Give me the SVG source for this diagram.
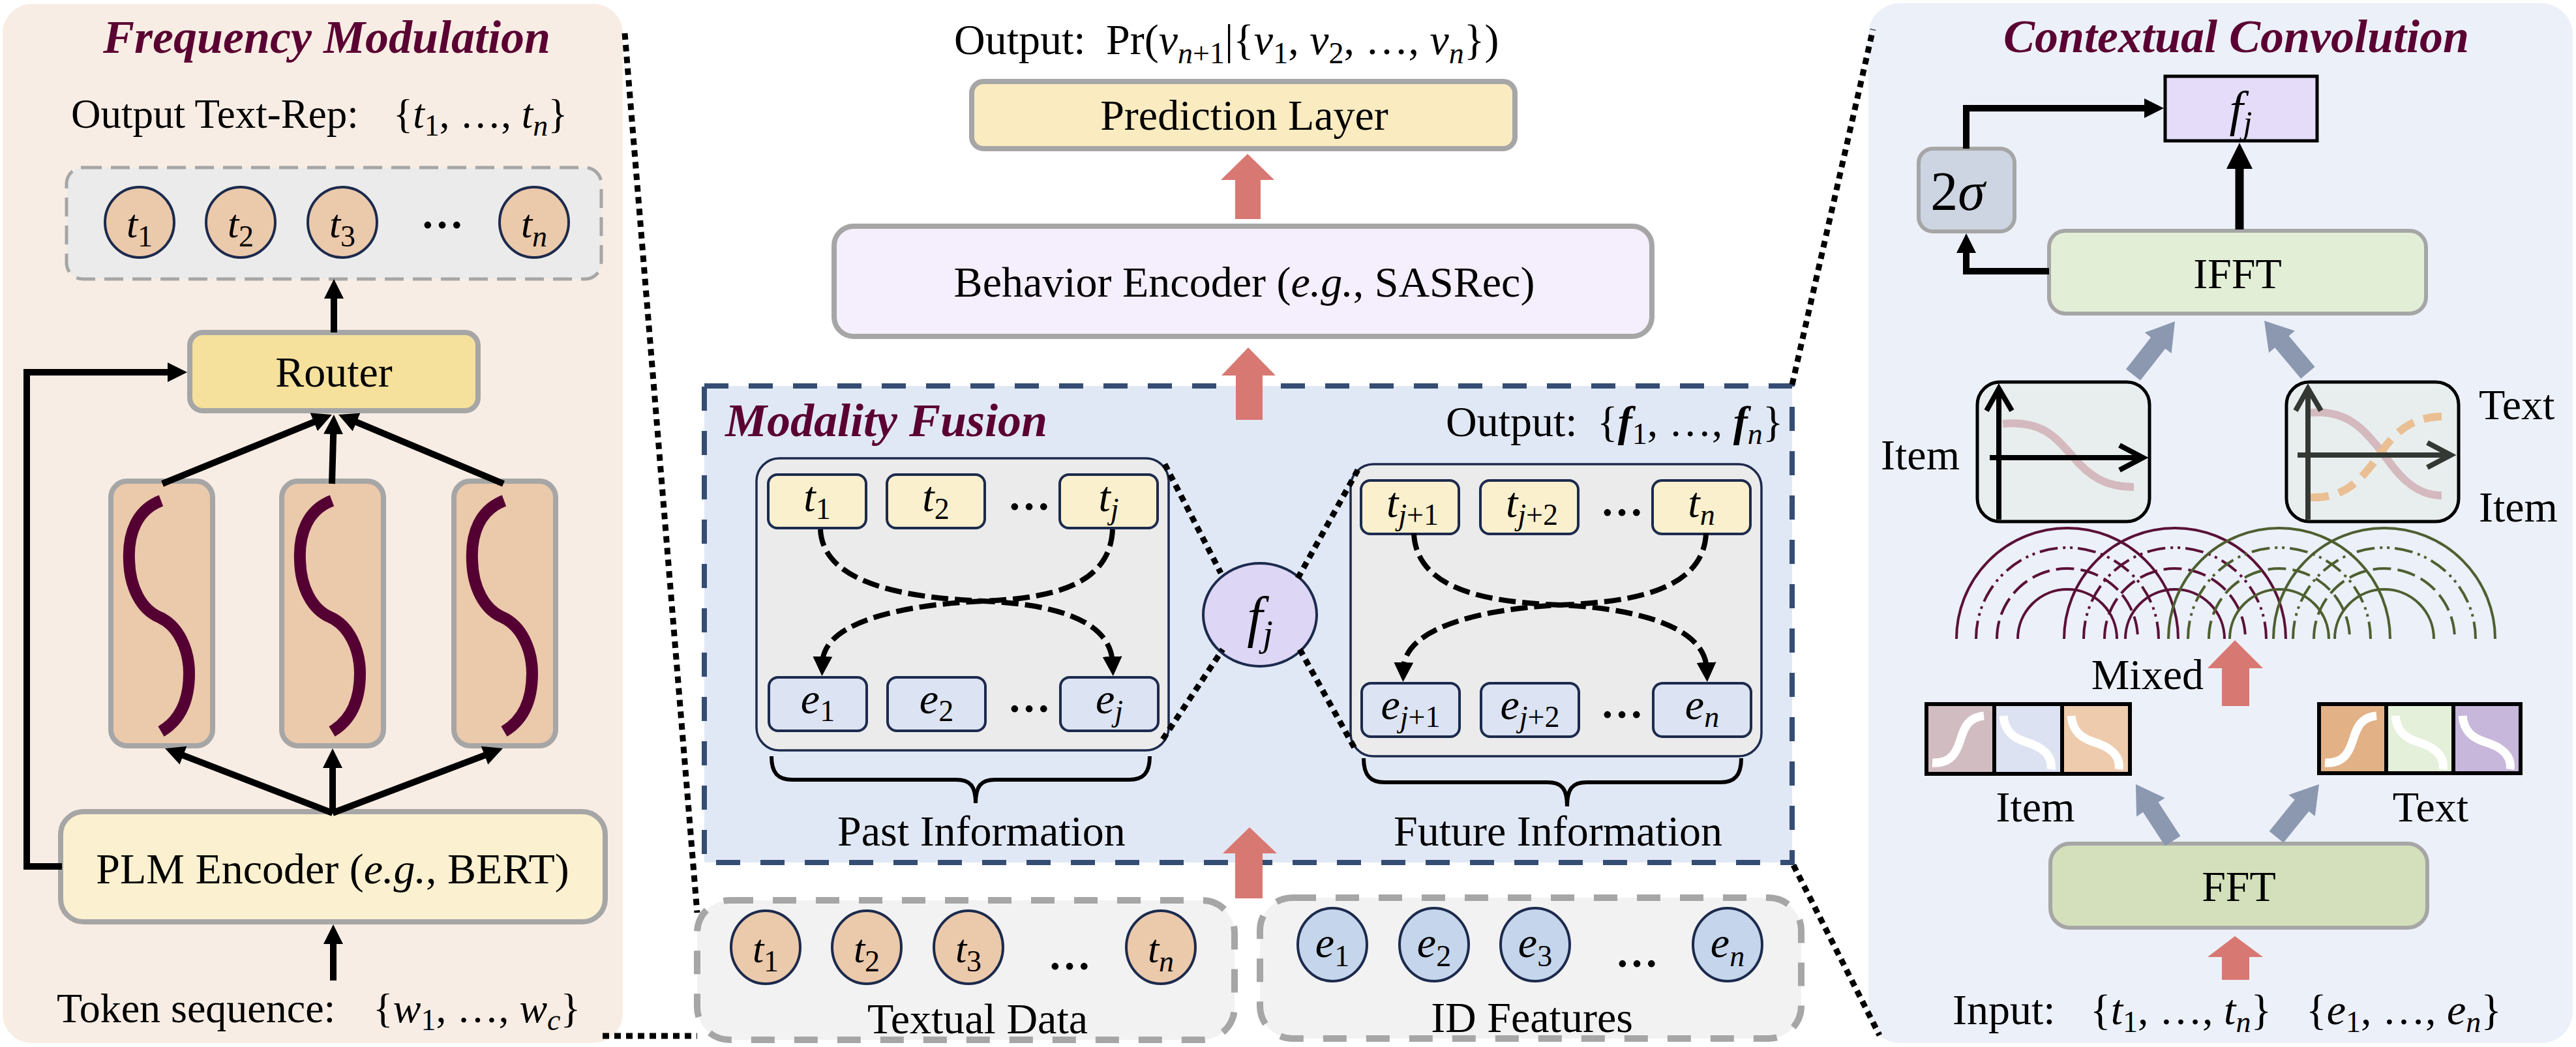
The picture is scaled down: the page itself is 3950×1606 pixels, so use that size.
<svg xmlns="http://www.w3.org/2000/svg" xmlns:xlink="http://www.w3.org/1999/xlink" width="3950" height="1606" viewBox="0 0 3950 1606">
<style>
.tx{font-family:"Liberation Serif","Times New Roman",serif;font-size:66px;fill:#000}
.ttl{font-family:"Liberation Serif","Times New Roman",serif;font-size:72px;font-weight:bold;font-style:italic;fill:#5a0032}
.i{font-style:italic}
.b{font-weight:bold}
.sb{font-size:46px}
.mid{text-anchor:middle}
.gbox{stroke:#a6a6a6;stroke-width:8}
.nv{stroke:#1c2a4d;stroke-width:4}
.ln{stroke:#000;stroke-width:10;fill:none}
.dot{stroke:#000;stroke-width:9;stroke-dasharray:10 8;fill:none}
.dcurve{stroke:#000;stroke-width:8;stroke-dasharray:26 10;fill:none}
.red{fill:#d87872}
.bga{fill:#8b98b0}
.peach{fill:#ebc9ab}
.blu{fill:#c5d6ec}
.ty{fill:#fbf0cd}
.ey{fill:#dce3f3}
.arcm{stroke:#5a1037;stroke-width:4;fill:none}
.arcg{stroke:#4e5f30;stroke-width:4;fill:none}
.dd{stroke-dasharray:28 8 4 7 4 8}
.da{stroke-dasharray:28 10}
.wc{stroke:#fff;stroke-width:13;fill:none}
.cell{stroke:#000;stroke-width:6}
</style>
<defs>
<marker id="ah" viewBox="0 0 30 30" refX="10" refY="15" markerWidth="30" markerHeight="30" orient="auto" markerUnits="userSpaceOnUse"><path d="M0,0 L30,15 L0,30 z" fill="#000"/></marker>
<marker id="ah2" viewBox="0 0 40 40" refX="14" refY="20" markerWidth="40" markerHeight="40" orient="auto" markerUnits="userSpaceOnUse"><path d="M0,0 L40,20 L0,40 z" fill="#000"/></marker>
<path id="sc" d="M-1,768 C-38,782 -52,818 -50,860 C-49,900 -32,935 -3,947 C25,960 42,995 42,1033 C42,1075 28,1105 -1,1122" stroke="#550033" stroke-width="18" fill="none"/>
<path id="wup" d="M9,90 C40,92 47,70 52,55 C58,35 65,20 88,18" class="wc"/>
<path id="wdn" d="M14,18 C16,42 30,52 48,58 C75,66 90,80 87,100" class="wc"/>
<polygon id="bga" points="0,0 26,42 14,42 14,104 -14,104 -14,42 -26,42" class="bga"/>
</defs>

<!-- panels -->
<g id="panel-freq">
<rect x="4" y="6" width="951" height="1594" rx="45" fill="#f8ede4"/>
<text class="ttl mid" x="501" y="81">Frequency Modulation</text>
<text class="tx" x="109" y="196" style="font-size:63px">Output Text-Rep:</text>
<text class="tx" x="603" y="196" style="font-size:63px">{<tspan class="i">t</tspan><tspan class="sb" dy="12">1</tspan><tspan dy="-12">, …, </tspan><tspan class="i">t</tspan><tspan class="sb i" dy="12">n</tspan><tspan dy="-12">}</tspan></text>
</g>
<g id="panel-conv">
<rect x="2865" y="5" width="1080" height="1595" rx="48" fill="#ecf0f9"/>
<text class="ttl mid" x="3429" y="80">Contextual Convolution</text>
</g>
<g id="modality-fusion">
<rect x="1080" y="592" width="1668" height="731" fill="#e1e8f5" stroke="#364d73" stroke-width="8" stroke-dasharray="37 31"/>
<text class="ttl" x="1112" y="669">Modality Fusion</text>
<text class="tx" x="2217" y="669">Output:</text>
<text class="tx" x="2449" y="669">{<tspan class="i b">f</tspan><tspan class="sb" dy="12">1</tspan><tspan dy="-12">, …, </tspan><tspan class="i b">f</tspan><tspan class="sb i" dy="12">n</tspan><tspan dy="-12">}</tspan></text>
</g>

<!-- left panel nodes -->
<g id="text-rep-row">
<rect x="102" y="257" width="820" height="171" rx="25" fill="#ebebeb" stroke="#a6a6a6" stroke-width="5" stroke-dasharray="29 14"/>
<ellipse cx="214" cy="341" rx="53" ry="54" class="peach nv"/>
<ellipse cx="369" cy="341" rx="53" ry="54" class="peach nv"/>
<ellipse cx="525" cy="341" rx="53" ry="54" class="peach nv"/>
<ellipse cx="819" cy="341" rx="53" ry="54" class="peach nv"/>
<text class="tx mid" x="214" y="364" style="font-size:62px"><tspan class="i">t</tspan><tspan class="sb" dy="14">1</tspan></text>
<text class="tx mid" x="369" y="364" style="font-size:62px"><tspan class="i">t</tspan><tspan class="sb" dy="14">2</tspan></text>
<text class="tx mid" x="525" y="364" style="font-size:62px"><tspan class="i">t</tspan><tspan class="sb" dy="14">3</tspan></text>
<text class="tx mid b" x="678" y="350">…</text>
<text class="tx mid" x="819" y="364" style="font-size:62px"><tspan class="i">t</tspan><tspan class="sb i" dy="14">n</tspan></text>
</g>
<g id="router">
<rect x="291" y="510" width="442" height="120" rx="20" fill="#f5e09c" class="gbox"/>
<text class="tx mid" x="512" y="593">Router</text>
</g>
<g id="expert-1"><rect x="170" y="738" width="156" height="406" rx="25" class="peach gbox"/><use xlink:href="#sc" x="248"/></g>
<g id="expert-2"><rect x="432" y="738" width="156" height="406" rx="25" class="peach gbox"/><use xlink:href="#sc" x="510"/></g>
<g id="expert-3"><rect x="696" y="738" width="156" height="406" rx="25" class="peach gbox"/><use xlink:href="#sc" x="774"/></g>
<g id="plm-encoder">
<rect x="93" y="1245" width="835" height="169" rx="35" fill="#fbf0cf" class="gbox"/>
<text class="tx mid" x="510" y="1355">PLM Encoder (<tspan class="i">e.g.</tspan>, BERT)</text>
</g>
<g id="token-seq">
<text class="tx" x="87" y="1568" style="font-size:64px">Token sequence:</text>
<text class="tx" x="572" y="1568" style="font-size:64px">{<tspan class="i">w</tspan><tspan class="sb" dy="12">1</tspan><tspan dy="-12">, …, </tspan><tspan class="i">w</tspan><tspan class="sb i" dy="12">c</tspan><tspan dy="-12">}</tspan></text>
</g>

<!-- middle nodes -->
<g id="output-pr">
<text class="tx" x="1463" y="83">Output:</text>
<text class="tx" x="1696" y="83">Pr(<tspan class="i">v</tspan><tspan class="sb" dy="14"><tspan class="i">n</tspan>+1</tspan><tspan dy="-14">|{</tspan><tspan class="i">v</tspan><tspan class="sb" dy="14">1</tspan><tspan dy="-14">, </tspan><tspan class="i">v</tspan><tspan class="sb" dy="14">2</tspan><tspan dy="-14">, …, </tspan><tspan class="i">v</tspan><tspan class="sb i" dy="14">n</tspan><tspan dy="-14">})</tspan></text>
</g>
<g id="prediction-layer">
<rect x="1490" y="125" width="833" height="103" rx="18" fill="#faebc0" class="gbox"/>
<text class="tx mid" x="1908" y="199">Prediction Layer</text>
</g>
<g id="behavior-encoder">
<rect x="1279" y="347" width="1254" height="169" rx="30" fill="#f5eefd" class="gbox"/>
<text class="tx mid" x="1908" y="455">Behavior Encoder (<tspan class="i">e.g.</tspan>, SASRec)</text>
</g>
<g id="past-info">
<rect x="1160" y="703" width="632" height="448" rx="35" fill="#ebebeb" stroke="#1c2a4d" stroke-width="3.5"/>
<rect x="1178" y="728" width="150" height="82" rx="14" class="ty nv" stroke-width="3.5"/>
<rect x="1360" y="728" width="150" height="82" rx="14" class="ty nv" stroke-width="3.5"/>
<rect x="1625" y="728" width="150" height="82" rx="14" class="ty nv" stroke-width="3.5"/>
<rect x="1179" y="1039" width="150" height="82" rx="14" class="ey nv" stroke-width="3.5"/>
<rect x="1361" y="1039" width="150" height="82" rx="14" class="ey nv" stroke-width="3.5"/>
<rect x="1626" y="1039" width="150" height="82" rx="14" class="ey nv" stroke-width="3.5"/>
<text class="tx mid" x="1253" y="784" style="font-size:66px"><tspan class="i">t</tspan><tspan class="sb" dy="12">1</tspan></text>
<text class="tx mid" x="1435" y="784" style="font-size:66px"><tspan class="i">t</tspan><tspan class="sb" dy="12">2</tspan></text>
<text class="tx mid b" x="1578" y="782">…</text>
<text class="tx mid" x="1700" y="784" style="font-size:66px"><tspan class="i">t</tspan><tspan class="sb i" dy="12">j</tspan></text>
<text class="tx mid" x="1254" y="1094" style="font-size:66px"><tspan class="i">e</tspan><tspan class="sb" dy="12">1</tspan></text>
<text class="tx mid" x="1436" y="1094" style="font-size:66px"><tspan class="i">e</tspan><tspan class="sb" dy="12">2</tspan></text>
<text class="tx mid b" x="1578" y="1092">…</text>
<text class="tx mid" x="1701" y="1094" style="font-size:66px"><tspan class="i">e</tspan><tspan class="sb i" dy="12">j</tspan></text>
<path d="M1183,1160 C1183,1186 1193,1196 1215,1196 L1466,1196 C1488,1196 1496,1206 1496,1232 C1496,1206 1504,1196 1526,1196 L1731,1196 C1753,1196 1763,1186 1763,1160" stroke="#000" stroke-width="6" fill="none"/>
<text class="tx mid" x="1505" y="1297">Past Information</text>
</g>
<g id="future-info">
<rect x="2071" y="712" width="630" height="448" rx="35" fill="#ebebeb" stroke="#1c2a4d" stroke-width="3.5"/>
<rect x="2087" y="737" width="150" height="82" rx="14" class="ty nv" stroke-width="3.5"/>
<rect x="2270" y="737" width="150" height="82" rx="14" class="ty nv" stroke-width="3.5"/>
<rect x="2534" y="737" width="150" height="82" rx="14" class="ty nv" stroke-width="3.5"/>
<rect x="2088" y="1048" width="150" height="82" rx="14" class="ey nv" stroke-width="3.5"/>
<rect x="2271" y="1048" width="150" height="82" rx="14" class="ey nv" stroke-width="3.5"/>
<rect x="2535" y="1048" width="150" height="82" rx="14" class="ey nv" stroke-width="3.5"/>
<text class="tx mid" x="2166" y="793" style="font-size:66px"><tspan class="i">t</tspan><tspan class="sb" dy="12"><tspan class="i">j</tspan>+1</tspan></text>
<text class="tx mid" x="2349" y="793" style="font-size:66px"><tspan class="i">t</tspan><tspan class="sb" dy="12"><tspan class="i">j</tspan>+2</tspan></text>
<text class="tx mid b" x="2487" y="791">…</text>
<text class="tx mid" x="2609" y="793" style="font-size:66px"><tspan class="i">t</tspan><tspan class="sb i" dy="12">n</tspan></text>
<text class="tx mid" x="2163" y="1103" style="font-size:66px"><tspan class="i">e</tspan><tspan class="sb" dy="12"><tspan class="i">j</tspan>+1</tspan></text>
<text class="tx mid" x="2346" y="1103" style="font-size:66px"><tspan class="i">e</tspan><tspan class="sb" dy="12"><tspan class="i">j</tspan>+2</tspan></text>
<text class="tx mid b" x="2487" y="1101">…</text>
<text class="tx mid" x="2610" y="1103" style="font-size:66px"><tspan class="i">e</tspan><tspan class="sb i" dy="12">n</tspan></text>
<path d="M2091,1163 C2091,1189 2101,1200 2123,1200 L2373,1200 C2395,1200 2403,1210 2403,1237 C2403,1210 2411,1200 2433,1200 L2638,1200 C2660,1200 2670,1189 2670,1163" stroke="#000" stroke-width="6" fill="none"/>
<text class="tx mid" x="2389" y="1297">Future Information</text>
</g>
<g id="fj-node">
<ellipse cx="1932" cy="943" rx="87" ry="79" fill="#ddd6f4" stroke="#1c2a4d" stroke-width="4"/>
<text class="tx mid" x="1932" y="975" style="font-size:86px"><tspan class="i">f</tspan><tspan class="i" style="font-size:56px" dy="16">j</tspan></text>
</g>
<g id="textual-data">
<rect x="1069" y="1381" width="824" height="214" rx="50" fill="#f2f2f2" stroke="#a6a6a6" stroke-width="10" stroke-dasharray="36 30"/>
<ellipse cx="1174" cy="1453" rx="53" ry="56" class="peach nv"/>
<ellipse cx="1329" cy="1453" rx="53" ry="56" class="peach nv"/>
<ellipse cx="1485" cy="1453" rx="53" ry="56" class="peach nv"/>
<ellipse cx="1780" cy="1453" rx="53" ry="56" class="peach nv"/>
<text class="tx mid" x="1174" y="1476" style="font-size:62px"><tspan class="i">t</tspan><tspan class="sb" dy="14">1</tspan></text>
<text class="tx mid" x="1329" y="1476" style="font-size:62px"><tspan class="i">t</tspan><tspan class="sb" dy="14">2</tspan></text>
<text class="tx mid" x="1485" y="1476" style="font-size:62px"><tspan class="i">t</tspan><tspan class="sb" dy="14">3</tspan></text>
<text class="tx mid b" x="1640" y="1487">…</text>
<text class="tx mid" x="1780" y="1476" style="font-size:62px"><tspan class="i">t</tspan><tspan class="sb i" dy="14">n</tspan></text>
<text class="tx mid" x="1499" y="1585">Textual Data</text>
</g>
<g id="id-features">
<rect x="1932" y="1377" width="830" height="216" rx="50" fill="#f2f2f2" stroke="#a6a6a6" stroke-width="10" stroke-dasharray="36 30"/>
<ellipse cx="2043" cy="1449" rx="53" ry="56" class="blu nv"/>
<ellipse cx="2199" cy="1449" rx="53" ry="56" class="blu nv"/>
<ellipse cx="2354" cy="1449" rx="53" ry="56" class="blu nv"/>
<ellipse cx="2649" cy="1449" rx="53" ry="56" class="blu nv"/>
<text class="tx mid" x="2043" y="1468" style="font-size:66px"><tspan class="i">e</tspan><tspan class="sb" dy="14">1</tspan></text>
<text class="tx mid" x="2199" y="1468" style="font-size:66px"><tspan class="i">e</tspan><tspan class="sb" dy="14">2</tspan></text>
<text class="tx mid" x="2354" y="1468" style="font-size:66px"><tspan class="i">e</tspan><tspan class="sb" dy="14">3</tspan></text>
<text class="tx mid b" x="2510" y="1483">…</text>
<text class="tx mid" x="2649" y="1468" style="font-size:66px"><tspan class="i">e</tspan><tspan class="sb i" dy="14">n</tspan></text>
<text class="tx mid" x="2349" y="1583">ID Features</text>
</g>

<!-- right panel nodes -->
<g id="fj-box">
<rect x="3320" y="117" width="233" height="99" fill="#e4dcf8" stroke="#000" stroke-width="5"/>
<text class="tx mid" x="3436" y="193" style="font-size:76px"><tspan class="i">f</tspan><tspan class="i" style="font-size:50px" dy="12">j</tspan></text>
</g>
<g id="sigma-box">
<rect x="2942" y="228" width="147" height="127" rx="22" fill="#cdd5e2" stroke="#a6a6a6" stroke-width="6"/>
<text class="tx mid" x="3002" y="322" style="font-size:84px">2<tspan class="i">σ</tspan></text>
</g>
<g id="ifft">
<rect x="3142" y="354" width="578" height="127" rx="25" fill="#e3eed7" stroke="#a6a6a6" stroke-width="6"/>
<text class="tx mid" x="3431" y="442">IFFT</text>
</g>
<g id="graph-item">
<rect x="3032" y="586" width="264" height="214" rx="35" fill="#e8eeee" stroke="#000" stroke-width="5"/>
<path d="M3071,650 C3130,645 3150,668 3178,700 C3205,732 3230,747 3272,747" stroke="#d4b9bf" stroke-width="12" fill="none"/>
<path d="M3065,797 L3065,596 M3046,630 L3065,596 L3085,630 M3051,702 L3286,702 M3250,683 L3286,702 L3250,721" stroke="#000" stroke-width="8" fill="none"/>
<text class="tx" x="3005" y="720" text-anchor="end">Item</text>
</g>
<g id="graph-mixed">
<rect x="3506" y="586" width="264" height="214" rx="35" fill="#e8eeee" stroke="#000" stroke-width="5"/>
<path d="M3543,633 C3600,628 3625,660 3650,690 C3675,725 3700,760 3744,760" stroke="#d4b9bf" stroke-width="12" fill="none"/>
<path d="M3543,763 C3600,765 3625,730 3650,695 C3675,660 3700,639 3747,639" stroke="#eabf93" stroke-width="12" stroke-dasharray="28 16" fill="none"/>
<path d="M3539,797 L3539,596 M3520,630 L3539,596 L3559,630 M3523,698 L3758,698 M3722,679 L3758,698 L3722,717" stroke="#333833" stroke-width="8" fill="none"/>
<text class="tx" x="3801" y="643">Text</text>
<text class="tx" x="3801" y="800">Item</text>
</g>
<g id="waves">
<path class="arcm" d="M3000,980 A170,170 0 0 1 3340,980"/>
<path class="arcm dd" d="M3030,980 A140,140 0 0 1 3310,980"/>
<path class="arcm da" d="M3062,980 A108,108 0 0 1 3278,980"/>
<path class="arcm" d="M3094,980 A76,76 0 0 1 3246,980"/>
<path class="arcm" d="M3165,980 A170,170 0 0 1 3505,980"/>
<path class="arcm dd" d="M3195,980 A140,140 0 0 1 3475,980"/>
<path class="arcm da" d="M3227,980 A108,108 0 0 1 3443,980"/>
<path class="arcm" d="M3259,980 A76,76 0 0 1 3411,980"/>
<path class="arcg" d="M3325,980 A170,170 0 0 1 3665,980"/>
<path class="arcg dd" d="M3355,980 A140,140 0 0 1 3635,980"/>
<path class="arcg da" d="M3387,980 A108,108 0 0 1 3603,980"/>
<path class="arcg" d="M3419,980 A76,76 0 0 1 3571,980"/>
<path class="arcg" d="M3486,980 A170,170 0 0 1 3826,980"/>
<path class="arcg dd" d="M3516,980 A140,140 0 0 1 3796,980"/>
<path class="arcg da" d="M3548,980 A108,108 0 0 1 3764,980"/>
<path class="arcg" d="M3580,980 A76,76 0 0 1 3732,980"/>
<text class="tx" x="3379" y="1057" text-anchor="end">Mixed</text>
</g>
<g id="item-spectrum">
<rect x="2954" y="1080" width="104" height="107" fill="#d1bcc1" class="cell"/>
<rect x="3058" y="1080" width="104" height="107" fill="#dde2f2" class="cell"/>
<rect x="3162" y="1080" width="104" height="107" fill="#edcbac" class="cell"/>
<use xlink:href="#wup" x="2954" y="1080"/>
<use xlink:href="#wdn" x="3058" y="1080"/>
<use xlink:href="#wdn" x="3162" y="1080"/>
<text class="tx mid" x="3121" y="1260">Item</text>
</g>
<g id="text-spectrum">
<rect x="3556" y="1080" width="103" height="106" fill="#e2b185" class="cell"/>
<rect x="3659" y="1080" width="103" height="106" fill="#e4f0d9" class="cell"/>
<rect x="3762" y="1080" width="103" height="106" fill="#c7b7db" class="cell"/>
<use xlink:href="#wup" x="3556" y="1080"/>
<use xlink:href="#wdn" x="3659" y="1080"/>
<use xlink:href="#wdn" x="3762" y="1080"/>
<text class="tx mid" x="3727" y="1260">Text</text>
</g>
<g id="fft">
<rect x="3144" y="1294" width="578" height="129" rx="30" fill="#d3e0bb" stroke="#a6a6a6" stroke-width="6"/>
<text class="tx mid" x="3433" y="1382">FFT</text>
</g>
<g id="input-label">
<text class="tx" x="2994" y="1571">Input:</text>
<text class="tx" x="3205" y="1571">{<tspan class="i">t</tspan><tspan class="sb" dy="12">1</tspan><tspan dy="-12">, …, </tspan><tspan class="i">t</tspan><tspan class="sb i" dy="12">n</tspan><tspan dy="-12">}</tspan></text>
<text class="tx" x="3536" y="1571">{<tspan class="i">e</tspan><tspan class="sb" dy="12">1</tspan><tspan dy="-12">, …, </tspan><tspan class="i">e</tspan><tspan class="sb i" dy="12">n</tspan><tspan dy="-12">}</tspan></text>
</g>

<!-- connectors -->
<g id="connectors">
<path class="ln" d="M512,510 L512,448" marker-end="url(#ah)"/>
<path class="ln" d="M249,742 L490.5,643.6" marker-end="url(#ah)"/>
<path class="ln" d="M509,742 L511.4,656" marker-end="url(#ah)"/>
<path class="ln" d="M772,742 L537.4,643.7" marker-end="url(#ah)"/>
<path class="ln" d="M95,1329 L41,1329 L41,571 L267,571" marker-end="url(#ah)"/>
<path class="ln" d="M510,1247 L271.7,1155.2" marker-end="url(#ah)"/>
<path class="ln" d="M510,1247 L510,1168" marker-end="url(#ah)"/>
<path class="ln" d="M510,1247 L752.3,1155.1" marker-end="url(#ah)"/>
<path class="ln" d="M511,1504 L511,1438" marker-end="url(#ah)"/>

<polygon class="red" points="1894,336 1894,276 1872,276 1913,236 1954,276 1933,276 1933,336"/>
<polygon class="red" points="1895,644 1895,576 1873,576 1914,533 1956,576 1936,576 1936,644"/>
<polygon class="red" points="1894,1378 1894,1309 1875,1309 1916,1269 1958,1309 1936,1309 1936,1378"/>

<path class="dcurve" d="M1258,812 C1262,905 1420,918 1508,922 C1600,926 1703,945 1706,1017" marker-end="url(#ah)"/>
<path class="dcurve" d="M1706,812 C1702,905 1596,918 1508,922 C1416,926 1263,945 1261,1017" marker-end="url(#ah)"/>
<path class="dcurve" d="M2168,818 C2172,912 2300,924 2392,928 C2490,932 2614,955 2617,1026" marker-end="url(#ah)"/>
<path class="dcurve" d="M2616,818 C2612,912 2484,924 2392,928 C2300,932 2154,955 2152,1026" marker-end="url(#ah)"/>

<path class="dot" d="M1786,712 L1872,879"/>
<path class="dot" d="M1783,1134 L1875,996"/>
<path class="dot" d="M1990,887 L2082,721"/>
<path class="dot" d="M1993,996 L2079,1151"/>
<path class="dot" d="M958,51 L1069,1400"/>
<path class="dot" d="M924,1589 L1069,1589"/>
<path class="dot" d="M2748,590 L2872,45"/>
<path class="dot" d="M2750,1327 L2882,1588"/>

<path class="ln" d="M3015,228 L3015,166 L3298,166" marker-end="url(#ah)"/>
<path class="ln" d="M3142,416 L3015,416 L3015,378" marker-end="url(#ah)"/>
<path d="M3434,352 L3434,245" stroke="#000" stroke-width="13" fill="none" marker-end="url(#ah2)"/>

<use xlink:href="#bga" transform="translate(3335,493) rotate(38)"/>
<use xlink:href="#bga" transform="translate(3472,492) rotate(-40)"/>
<use xlink:href="#bga" transform="translate(3275,1203) rotate(-33)"/>
<use xlink:href="#bga" transform="translate(3556,1203) rotate(39)"/>

<polygon class="red" points="3407,1083 3407,1025 3385,1025 3427,982 3470,1025 3449,1025 3449,1083"/>
<polygon class="red" points="3407,1503 3407,1468 3385,1468 3427,1436 3470,1468 3449,1468 3449,1503"/>
</g>
</svg>
